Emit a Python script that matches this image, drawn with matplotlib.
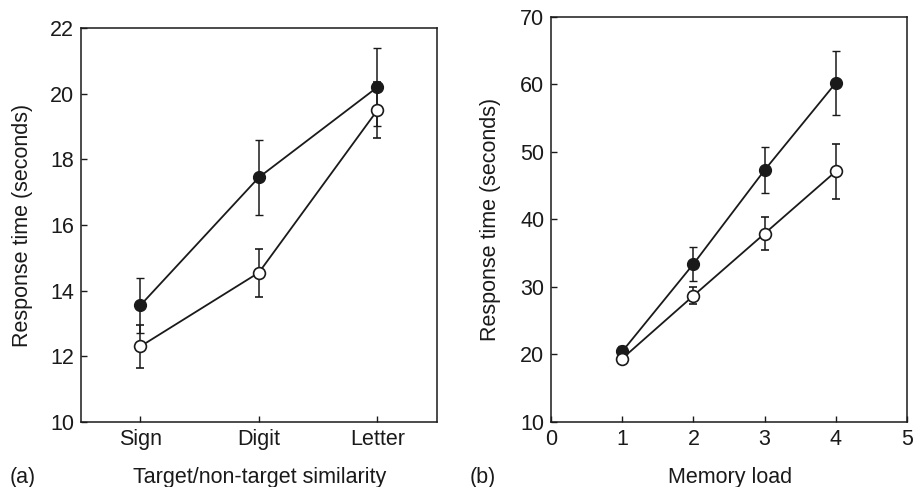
import matplotlib
matplotlib.use("Agg")
import matplotlib.pyplot as plt

plt.rcParams['font.family'] = ['Liberation Sans', 'DejaVu Sans']

# Panel (a)
cats_a = ["Sign", "Digit", "Letter"]
filled_a = [13.55, 17.45, 20.2]
filled_a_err = [0.85, 1.15, 1.2]
open_a = [12.3, 14.55, 19.5]
open_a_err = [0.65, 0.73, 0.85]

# Panel (b)
load_b = [1, 2, 3, 4]
filled_b = [20.45, 33.4, 47.3, 60.2]
filled_b_err = [0.8, 2.45, 3.35, 4.8]
open_b = [19.4, 28.7, 37.9, 47.1]
open_b_err = [0.7, 1.3, 2.4, 4.1]

fig = plt.figure(figsize=(9.17, 4.87), dpi=100)
ax1 = fig.add_axes([0.0883, 0.1335, 0.388, 0.809])
ax2 = fig.add_axes([0.601, 0.1335, 0.388, 0.832])

col = '#1a1a1a'
fs = 15.5

def style(ax):
    for s in ax.spines.values():
        s.set_linewidth(1.1)
        s.set_color(col)
    ax.tick_params(direction='in', length=4, width=1, colors=col, labelsize=fs, pad=5)

xa = list(range(1, len(cats_a) + 1))
ax1.errorbar(xa, filled_a, yerr=filled_a_err, color=col, lw=1.3, elinewidth=1.1, capsize=3,
             marker='o', ms=8.5, mfc=col, mec=col, zorder=3)
ax1.errorbar(xa, open_a, yerr=open_a_err, color=col, lw=1.3, elinewidth=1.1, capsize=3,
             marker='o', ms=8.5, mfc='white', mec=col, mew=1.2, zorder=4)
ax1.set_xlim(0.5, 3.5)
ax1.set_ylim(10, 22)
ax1.set_xticks(xa)
ax1.set_xticklabels(cats_a)
ax1.set_yticks([10, 12, 14, 16, 18, 20, 22])
ax1.set_ylabel("Response time (seconds)", fontsize=fs, color=col)
ax1.yaxis.set_label_coords(-0.135, 0.5)
style(ax1)

ax2.errorbar(load_b, filled_b, yerr=filled_b_err, color=col, lw=1.3, elinewidth=1.1, capsize=3,
             marker='o', ms=8.5, mfc=col, mec=col, zorder=3)
ax2.errorbar(load_b, open_b, yerr=open_b_err, color=col, lw=1.3, elinewidth=1.1, capsize=3,
             marker='o', ms=8.5, mfc='white', mec=col, mew=1.2, zorder=4)
ax2.set_xlim(0, 5)
ax2.set_ylim(10, 70)
ax2.set_xticks([0, 1, 2, 3, 4, 5])
ax2.set_yticks([10, 20, 30, 40, 50, 60, 70])
ax2.set_ylabel("Response time (seconds)", fontsize=fs, color=col)
ax2.yaxis.set_label_coords(-0.14, 0.5)
style(ax2)

fig.text(23 / 917, 1 - 477 / 487, "(a)", fontsize=fs, color=col, ha='center', va='center')
fig.text(260 / 917, 1 - 477 / 487, "Target/non-target similarity", fontsize=fs, color=col, ha='center', va='center')
fig.text(483 / 917, 1 - 477 / 487, "(b)", fontsize=fs, color=col, ha='center', va='center')
fig.text(730 / 917, 1 - 477 / 487, "Memory load", fontsize=fs, color=col, ha='center', va='center')

fig.savefig("out.png", dpi=100)
